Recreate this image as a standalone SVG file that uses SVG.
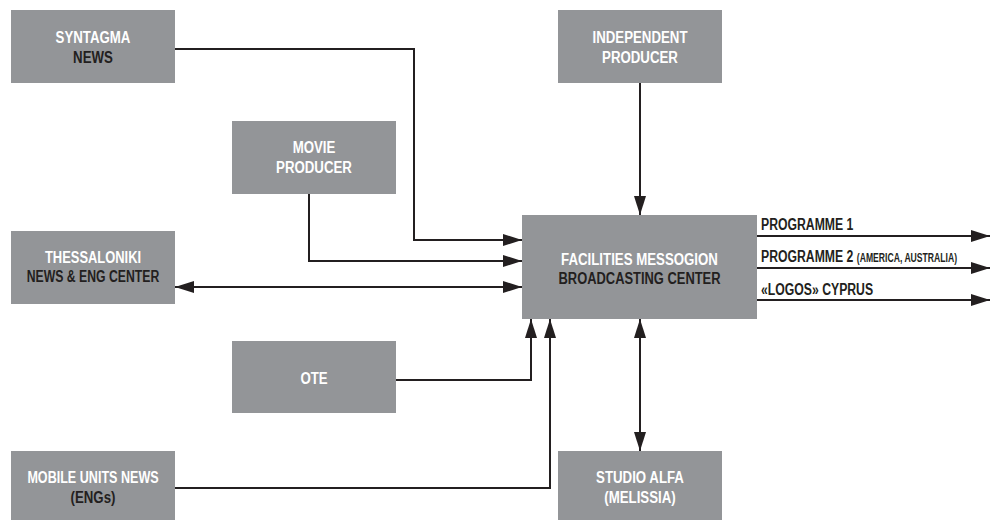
<svg xmlns="http://www.w3.org/2000/svg" width="990" height="520" viewBox="0 0 990 520">
<style>
.box{fill:#939598}
.t{font-family:"Liberation Sans",Arial,sans-serif;font-weight:bold;font-size:17px}
.w{fill:#ffffff}
.d{fill:#231f20}
.c{text-anchor:middle}
.s{font-size:12px}
.ln{fill:none;stroke:#231f20;stroke-width:2}
</style>
<defs>
<marker id="ah" viewBox="0 0 19 12" refX="19" refY="6" markerWidth="19" markerHeight="12" markerUnits="userSpaceOnUse" orient="auto-start-reverse">
<path d="M0,0 L19,6 L0,12 Z" fill="#231f20"/>
</marker>
</defs>
<rect width="990" height="520" fill="#ffffff"/>
<g id="connectors">
<path class="ln" d="M175,49 H414 V240 H522" marker-end="url(#ah)"/>
<path class="ln" d="M309,194 V261 H522" marker-end="url(#ah)"/>
<path class="ln" d="M175,287 H522" marker-start="url(#ah)" marker-end="url(#ah)"/>
<path class="ln" d="M640,83 V215" marker-end="url(#ah)"/>
<path class="ln" d="M396,380 H531 V319" marker-end="url(#ah)"/>
<path class="ln" d="M175,488 H550 V319" marker-end="url(#ah)"/>
<path class="ln" d="M640,319 V451" marker-start="url(#ah)" marker-end="url(#ah)"/>
<path class="ln" d="M757,236 H990" marker-end="url(#ah)"/>
<path class="ln" d="M757,268 H990" marker-end="url(#ah)"/>
<path class="ln" d="M757,300 H990" marker-end="url(#ah)"/>
<text class="t d" transform="translate(761,230) scale(0.72,1)">PROGRAMME 1</text>
<text class="t d" transform="translate(761,262) scale(0.72,1)">PROGRAMME 2 <tspan class="s">(AMERICA, AUSTRALIA)</tspan></text>
<text class="t d" transform="translate(761,295) scale(0.72,1)">«LOGOS» CYPRUS</text>
</g>
<g id="syntagma">
<rect class="box" x="11" y="10" width="164" height="73"/>
<text class="t w c" transform="translate(93,43) scale(0.78,1)">SYNTAGMA</text>
<text class="t d c" transform="translate(93,63) scale(0.78,1)">NEWS</text>
</g>
<g id="movie">
<rect class="box" x="232" y="121" width="164" height="73"/>
<text class="t w c" transform="translate(314,153) scale(0.78,1)">MOVIE</text>
<text class="t w c" transform="translate(314,173) scale(0.78,1)">PRODUCER</text>
</g>
<g id="independent">
<rect class="box" x="558" y="10" width="164" height="73"/>
<text class="t w c" transform="translate(640,43) scale(0.78,1)">INDEPENDENT</text>
<text class="t w c" transform="translate(640,63) scale(0.78,1)">PRODUCER</text>
</g>
<g id="facilities">
<rect class="box" x="522" y="215" width="235" height="104"/>
<text class="t w c" transform="translate(639.5,265) scale(0.78,1)">FACILITIES MESSOGION</text>
<text class="t d c" transform="translate(639.5,284) scale(0.76,1)">BROADCASTING CENTER</text>
</g>
<g id="thessaloniki">
<rect class="box" x="11" y="231" width="164" height="73"/>
<text class="t w c" transform="translate(93,263) scale(0.76,1)">THESSALONIKI</text>
<text class="t d c" transform="translate(93,282) scale(0.72,1)">NEWS &amp; ENG CENTER</text>
</g>
<g id="ote">
<rect class="box" x="232" y="341" width="164" height="72"/>
<text class="t w c" transform="translate(314,384) scale(0.78,1)">OTE</text>
</g>
<g id="mobile">
<rect class="box" x="11" y="451" width="164" height="73"/>
<text class="t w c" transform="translate(93,483) scale(0.74,1)">MOBILE UNITS NEWS</text>
<text class="t d c" transform="translate(93,503) scale(0.78,1)">(ENGs)</text>
</g>
<g id="studio">
<rect class="box" x="558" y="451" width="164" height="73"/>
<text class="t w c" transform="translate(640,483) scale(0.78,1)">STUDIO ALFA</text>
<text class="t w c" transform="translate(640,503) scale(0.78,1)">(MELISSIA)</text>
</g>
</svg>
